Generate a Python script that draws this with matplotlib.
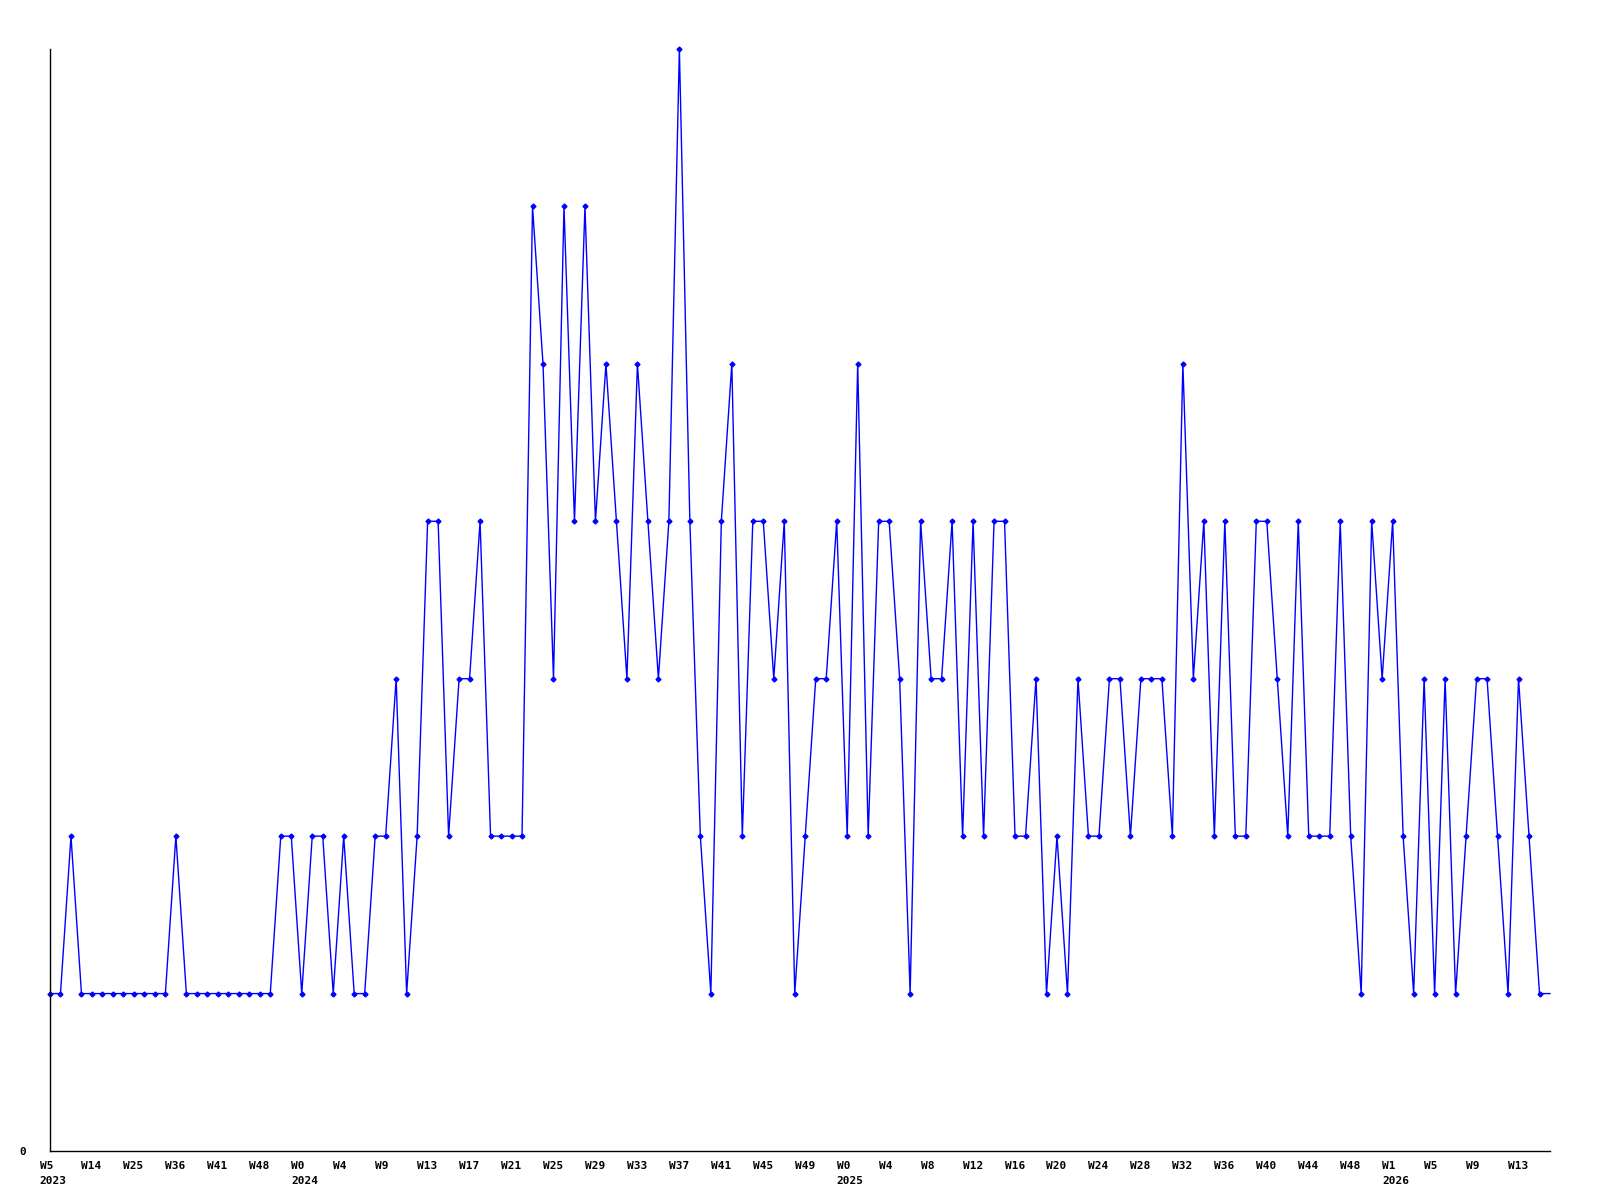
import matplotlib as mpl
mpl.use("Agg")
from matplotlib import pyplot as plt
from matplotlib import transforms
import numpy as np

# Данные: количество по неделям
counts = [
    1, 1, 2, 1, 1, 1, 1, 1, 1, 1, 1, 1, 2, 1, 1, 1, 1, 1, 1, 1,
    1, 1, 2, 2, 1, 2, 2, 1, 2, 1, 1, 2, 2, 3, 1, 2, 4, 4, 2, 3,
    3, 4, 2, 2, 2, 2, 6, 5, 3, 6, 4, 6, 4, 5, 4, 3, 5, 4, 3, 4,
    7, 4, 2, 1, 4, 5, 2, 4, 4, 3, 4, 1, 2, 3, 3, 4, 2, 5, 2, 4,
    4, 3, 1, 4, 3, 3, 4, 2, 4, 2, 4, 4, 2, 2, 3, 1, 2, 1, 3, 2,
    2, 3, 3, 2, 3, 3, 3, 2, 5, 3, 4, 2, 4, 2, 2, 4, 4, 3, 2, 4,
    2, 2, 2, 4, 2, 1, 4, 3, 4, 2, 1, 3, 1, 3, 1, 2, 3, 3, 2, 1,
    3, 2, 1, 1,
]

week_labels = [
    "W5", "W14", "W25", "W36", "W41", "W48", "W0", "W4", "W9", "W13",
    "W17", "W21", "W25", "W29", "W33", "W37", "W41", "W45", "W49", "W0",
    "W4", "W8", "W12", "W16", "W20", "W24", "W28", "W32", "W36", "W40",
    "W44", "W48", "W1", "W5", "W9", "W13",
]
label_step = 4

year_labels = ["2023", "2024", "2025", "2026"]
year_positions = [0, 24, 76, 128]

x = np.arange(len(counts))

fig = plt.figure(figsize=(16, 12), dpi=100)
ax = fig.add_axes([50 / 1600, 49 / 1200, 1500 / 1600, 1102 / 1200])

ax.plot(x, counts, color="#0000ff", lw=1.0, marker="D", ms=2.5,
        markevery=list(range(len(counts) - 1)), clip_on=False)

ax.set_xlim(0, len(counts) - 1)
ax.set_ylim(0, max(counts))

for side in ("top", "right"):
    ax.spines[side].set_visible(False)
for side in ("left", "bottom"):
    ax.spines[side].set_color("black")
    ax.spines[side].set_linewidth(1.0)

ax.set_xticks([])
ax.set_yticks([0])
ax.set_yticklabels(["0"], fontfamily="DejaVu Sans Mono", fontweight="bold", fontsize=8)
ax.tick_params(axis="y", length=0, pad=17)

# Подписи недель и годов
font = dict(fontfamily="DejaVu Sans Mono", fontweight="bold", fontsize=8)
base = transforms.blended_transform_factory(ax.transData, ax.transAxes)
week_tr = transforms.offset_copy(base, fig=fig, x=-10.5, y=-10, units="dots")
year_tr = transforms.offset_copy(base, fig=fig, x=-10.5, y=-25, units="dots")

for k, lab in enumerate(week_labels):
    ax.text(k * label_step, 0, lab, transform=week_tr, ha="left", va="top", **font)
for pos, lab in zip(year_positions, year_labels):
    ax.text(pos, 0, lab, transform=year_tr, ha="left", va="top", **font)

plt.savefig("out.png", dpi=100)
